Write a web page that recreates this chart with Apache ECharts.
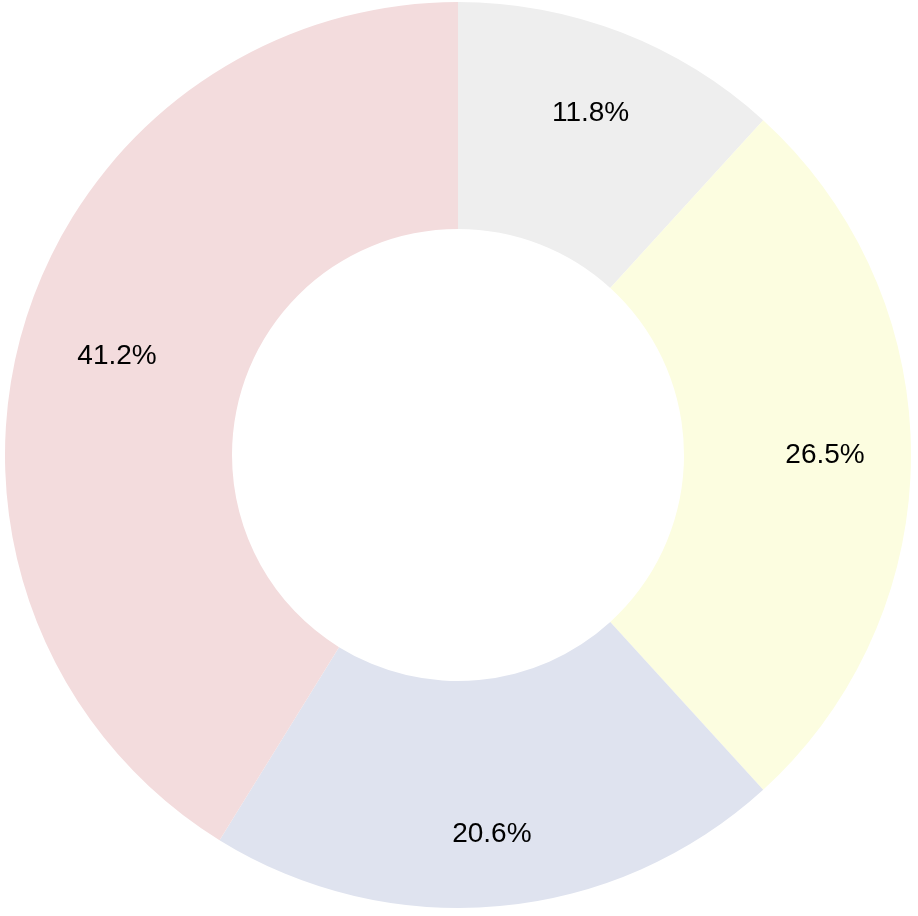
<!DOCTYPE html>
<html>
<head>
<meta charset="utf-8">
<style>
html,body{margin:0;padding:0;background:#fff;}
#chart{width:918px;height:916px;}
</style>
<script src="https://cdn.jsdelivr.net/npm/echarts@6/dist/echarts.min.js"></script>
</head>
<body>
<div id="chart"></div>
<script>
const categories = ['A', 'B', 'C', 'D'];
const values = [4, 9, 7, 14];
const colors = ['#eeeeee', '#fcfde0', '#dfe3ef', '#f3dcdd'];

const chart = echarts.init(document.getElementById('chart'), null, {renderer: 'canvas'});
const total = values.reduce((a, b) => a + b, 0);
const data = categories.map((c, i) => ({name: c, value: values[i], itemStyle: {color: colors[i]}}));
const labelData = categories.map((c, i) => ({name: c, value: values[i]}));
const nudges = {2: [0, 14], 3: [12, 2]};

chart.setOption({
  animation: false,
  series: [
    {
      type: 'pie',
      center: [458, 455],
      radius: [226, 453],
      startAngle: 90,
      clockwise: true,
      silent: true,
      label: {show: false},
      labelLine: {show: false},
      itemStyle: {borderWidth: 0},
      data: data
    },
    {
      type: 'pie',
      center: [458, 455],
      radius: [275, 453],
      startAngle: 90,
      clockwise: true,
      silent: true,
      itemStyle: {color: 'rgba(0,0,0,0)', borderWidth: 0},
      label: {
        show: true,
        position: 'inside',
        color: '#000',
        fontFamily: 'Liberation Sans, Arial, sans-serif',
        fontSize: 28,
        formatter: p => (p.value / total * 100).toFixed(1) + '%'
      },
      labelLayout: p => {
        const n = nudges[p.dataIndex];
        return n ? {dx: n[0], dy: n[1]} : {};
      },
      labelLine: {show: false},
      data: labelData
    }
  ]
});
</script>
</body>
</html>
